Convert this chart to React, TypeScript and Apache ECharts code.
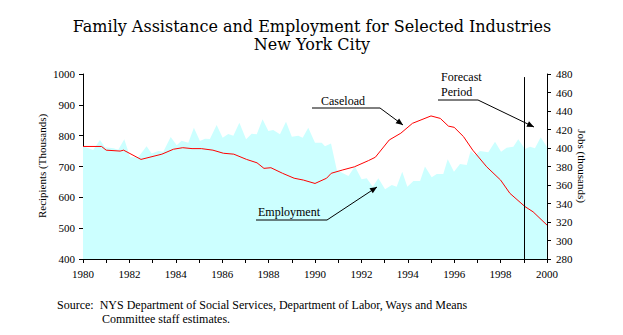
import React, { useEffect, useRef } from "react";
import * as echarts from "echarts";

// Caseload (left axis, thousands of recipients): [year, value]
const caseload: [number, number][] = [
  [1980.0, 765], [1980.8, 765], [1981.0, 753], [1981.6, 750], [1981.75, 753],
  [1982.5, 723], [1983.4, 740], [1983.9, 756], [1984.3, 761], [1984.7, 758],
  [1985.1, 758], [1985.6, 753], [1986.05, 743], [1986.5, 740], [1987.05, 723],
  [1987.5, 712], [1987.8, 694], [1988.1, 696], [1988.6, 678], [1989.1, 662],
  [1989.5, 656], [1990.0, 645], [1990.5, 662], [1990.7, 678], [1991.2, 689],
  [1991.7, 699], [1992.3, 719], [1992.6, 730], [1993.2, 786], [1993.7, 808],
  [1994.2, 840], [1995.0, 864], [1995.4, 856], [1995.75, 831], [1996.0, 827],
  [1996.4, 797], [1996.8, 753], [1997.4, 699], [1998.0, 656], [1998.4, 613],
  [1999.05, 570], [1999.4, 553], [2000.0, 510],
];

// Employment (right axis, thousands of jobs): [year, value]
const employment: [number, number][] = [
  [1980.0, 401.8], [1980.44, 397.8], [1980.73, 408.6], [1980.95, 400.8],
  [1981.31, 399.7], [1981.52, 398], [1981.78, 409.4], [1982.03, 390],
  [1982.38, 390], [1982.74, 402], [1982.96, 394], [1983.25, 396.8],
  [1983.46, 396], [1983.78, 412], [1984.04, 403], [1984.25, 407.9],
  [1984.54, 405.7], [1984.78, 422], [1985.04, 407.6], [1985.26, 410],
  [1985.47, 409.7], [1985.76, 425], [1986.02, 411.2], [1986.26, 415.1],
  [1986.48, 413.3], [1986.74, 427.4], [1987.03, 409.4], [1987.27, 415.5],
  [1987.49, 414.8], [1987.74, 431], [1987.99, 418.4], [1988.2, 419.5],
  [1988.49, 414.8], [1988.75, 428.4], [1989.0, 412.2], [1989.28, 413.3],
  [1989.47, 411.2], [1989.71, 422], [1990.0, 405.7], [1990.29, 405.7],
  [1990.43, 402], [1990.69, 405], [1990.94, 376.2], [1991.44, 369.7],
  [1991.72, 380], [1992.01, 366.2], [1992.23, 367.2], [1992.49, 358.2],
  [1992.73, 367.2], [1993.02, 355.3], [1993.31, 360], [1993.52, 358.2],
  [1993.76, 374.4], [1993.98, 358.2], [1994.24, 364.3], [1994.53, 364.3],
  [1994.74, 380], [1995.03, 368.3], [1995.25, 371.9], [1995.53, 371.9],
  [1995.72, 387.8], [1995.99, 374.4], [1996.25, 382.7], [1996.54, 381.7],
  [1996.71, 397.1], [1996.9, 392.4], [1997.11, 396.8], [1997.47, 395.4],
  [1997.76, 406.8], [1998.02, 396], [1998.26, 400.3], [1998.55, 401.4],
  [1998.76, 409.4], [1999.05, 398.9], [1999.27, 401.4], [1999.48, 399.7],
  [1999.73, 411.6], [1999.99, 401.4],
];

const forecastStart = 1999;
const titleLines = ["Family Assistance and Employment for Selected Industries", "New York City"];
const sourceLines = [
  "Source:  NYS Department of Social Services, Department of Labor, Ways and Means",
  "Committee staff estimates.",
];

const FONT = "'Liberation Serif', 'Times New Roman', serif";
const TITLE_FONT = "'DejaVu Serif', serif";

function arrowHead(x1: number, y1: number, x2: number, y2: number) {
  const ang = Math.atan2(y2 - y1, x2 - x1);
  const len = 7;
  const hw = 3;
  const bx = x2 - len * Math.cos(ang);
  const by = y2 - len * Math.sin(ang);
  const px = -Math.sin(ang) * hw;
  const py = Math.cos(ang) * hw;
  return {
    type: "polygon",
    z: 100,
    shape: { points: [[x2, y2], [bx + px, by + py], [bx - px, by - py]] },
    style: { fill: "#000" },
    silent: true,
  };
}

function callout(label: string, tx: number, ty: number, pts: number[][]) {
  const a = pts[pts.length - 2];
  const b = pts[pts.length - 1];
  return [
    {
      type: "text",
      z: 100,
      x: tx,
      y: ty,
      style: { text: label, font: `12px ${FONT}`, fill: "#000", textVerticalAlign: "middle" },
      silent: true,
    },
    {
      type: "polyline",
      z: 100,
      shape: { points: pts },
      style: { stroke: "#000", lineWidth: 1, fill: null },
      silent: true,
    },
    arrowHead(a[0], a[1], b[0], b[1]),
  ];
}

export default function App() {
  const ref = useRef<HTMLDivElement>(null);
  useEffect(() => {
    if (!ref.current) return;
    const chart = echarts.init(ref.current, undefined, { renderer: "svg" });
    const axisBase = {
      axisLine: { show: true, lineStyle: { color: "#000", width: 1 } },
      axisTick: { show: true, length: 4, lineStyle: { color: "#000" } },
      splitLine: { show: false },
      axisLabel: { color: "#000", fontFamily: FONT, fontSize: 11, margin: 8, formatter: (v: number) => String(v) },
    };
    chart.setOption({
      animation: false,
      backgroundColor: "#fff",
      grid: { left: 83, right: 76, top: 74, bottom: 76 },
      xAxis: {
        type: "value",
        min: 1980,
        max: 2000,
        interval: 1,
        ...axisBase,
        axisLabel: {
          ...axisBase.axisLabel,
          margin: 9,
          formatter: (v: number) => (v % 2 === 0 ? String(v) : ""),
        },
      },
      yAxis: [
        { type: "value", min: 400, max: 1000, interval: 100, position: "left", ...axisBase },
        {
          type: "value",
          min: 280,
          max: 480,
          interval: 20,
          position: "right",
          ...axisBase,
          axisLabel: { ...axisBase.axisLabel, margin: 9 },
        },
      ],
      series: [
        {
          name: "Employment",
          type: "line",
          yAxisIndex: 1,
          data: employment,
          symbol: "none",
          lineStyle: { width: 0 },
          areaStyle: { color: "#ccffff", opacity: 1, origin: "start" },
          z: 1,
        },
        {
          name: "Caseload",
          type: "line",
          yAxisIndex: 0,
          data: caseload,
          symbol: "none",
          lineStyle: { color: "#ff0000", width: 1 },
          z: 3,
          markLine: {
            silent: true,
            symbol: "none",
            label: { show: false },
            lineStyle: { color: "#000", width: 1, type: "solid" },
            data: [[{ coord: [forecastStart, 990] }, { coord: [forecastStart, 400] }]],
          },
        },
      ],
      graphic: [
        {
          type: "text",
          z: 100,
          x: 312,
          y: 26,
          style: { text: titleLines[0], font: `16px ${TITLE_FONT}`, fill: "#000", textAlign: "center", textVerticalAlign: "middle" },
        },
        {
          type: "text",
          z: 100,
          x: 312,
          y: 44,
          style: { text: titleLines[1], font: `16px ${TITLE_FONT}`, fill: "#000", textAlign: "center", textVerticalAlign: "middle" },
        },
        {
          type: "text",
          z: 100,
          x: 42,
          y: 166,
          rotation: Math.PI / 2,
          style: { text: "Recipients (Thousands)", font: `11px ${FONT}`, fill: "#000", textAlign: "center", textVerticalAlign: "middle" },
        },
        {
          type: "text",
          z: 100,
          x: 582,
          y: 166,
          rotation: -Math.PI / 2,
          style: { text: "Jobs (thousands)", font: `11px ${FONT}`, fill: "#000", textAlign: "center", textVerticalAlign: "middle" },
        },
        ...callout("Caseload", 321, 101, [[312, 108], [380, 108], [403, 125]]),
        ...callout("Employment", 258, 212, [[256, 220], [327, 220], [377, 187]]),
        {
          type: "text",
          z: 100,
          x: 441,
          y: 77,
          style: { text: "Forecast", font: `12px ${FONT}`, fill: "#000", textVerticalAlign: "middle" },
        },
        ...callout("Period", 441, 92, [[438, 100], [478, 100], [534, 127]]),
        {
          type: "text",
          z: 100,
          x: 57,
          y: 305,
          style: { text: sourceLines[0], font: `12px ${FONT}`, fill: "#000", textVerticalAlign: "middle" },
        },
        {
          type: "text",
          z: 100,
          x: 102,
          y: 319,
          style: { text: sourceLines[1], font: `12px ${FONT}`, fill: "#000", textVerticalAlign: "middle" },
        },
      ],
    });
    return () => chart.dispose();
  }, []);
  return <div ref={ref} style={{ width: 623, height: 335, position: "absolute", left: 0, top: 0 }} />;
}
